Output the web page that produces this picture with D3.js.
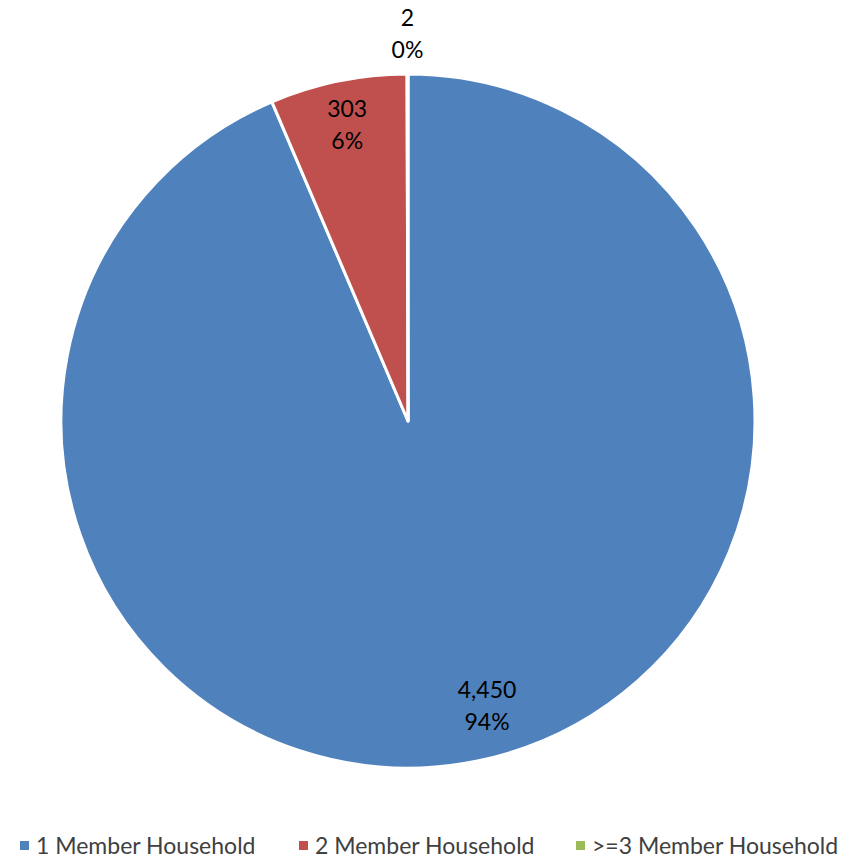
<!DOCTYPE html>
<meta charset="utf-8">
<script src="https://d3js.org/d3.v7.min.js"></script>
<style>
  body { margin: 0; background: #fff; }
  text { font-family: Lato, "Open Sans", sans-serif; fill: #000; }
  text.label { font-size: 23px; }
  text.legend { font-size: 23px; fill: #404040; }
</style>
<div id="my_dataviz"></div>
<script>
  // data
  var categories = ["1 Member Household", "2 Member Household", ">=3 Member Household"];
  var counts = [4450, 303, 2];
  var percentLabels = ["94%", "6%", "0%"];
  var colors = ["#4F81BD", "#C0504D", "#9BBB59"];

  var width = 849, height = 859;
  var cx = 408, cy = 421, radius = 347;

  var svg = d3.select("#my_dataviz")
    .append("svg")
      .attr("width", width)
      .attr("height", height);

  var g = svg.append("g")
    .attr("transform", "translate(" + cx + "," + cy + ")");

  var pie = d3.pie().sort(null).value(function(d) { return d; });
  var arcs = pie(counts);

  var arc = d3.arc().innerRadius(0).outerRadius(radius);

  g.selectAll("path.slice")
    .data(arcs)
    .enter()
    .append("path")
      .attr("class", "slice")
      .attr("d", arc)
      .attr("fill", function(d, i) { return colors[i]; })
      .attr("stroke", "#fff")
      .attr("stroke-width", 3)
      .attr("stroke-linejoin", "round");

  // data labels (best-fit-ish: inside for big slices, outside for tiny one)
  var labelFactor = [0.85, 0.87, 1.115];
  var fmt = d3.format(",");
  arcs.forEach(function(d, i) {
    var a = (d.startAngle + d.endAngle) / 2;
    var r = radius * labelFactor[i];
    var x = Math.sin(a) * r, y = -Math.cos(a) * r;
    if (i === 0) { x += 20; y -= 4; }
    var t = g.append("text")
      .attr("class", "label")
      .attr("text-anchor", "middle")
      .attr("x", x)
      .attr("y", y - 8);
    t.append("tspan").attr("x", x).attr("dy", 0).text(fmt(counts[i]));
    t.append("tspan").attr("x", x).attr("dy", 32).text(percentLabels[i]);
  });

  // legend
  var legendX = [20, 299, 576];
  var legend = svg.selectAll("g.legend")
    .data(categories)
    .enter()
    .append("g")
      .attr("transform", function(d, i) { return "translate(" + legendX[i] + ",846)"; });

  legend.append("rect")
    .attr("x", 0).attr("y", -5)
    .attr("width", 9).attr("height", 9)
    .attr("fill", function(d, i) { return colors[i]; });

  legend.append("text")
    .attr("class", "legend")
    .attr("x", 16)
    .attr("y", 0)
    .attr("dy", "0.36em")
    .text(function(d) { return d; });
</script>
